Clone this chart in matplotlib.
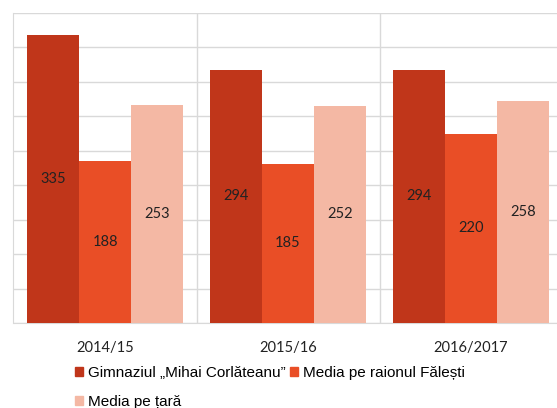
import matplotlib
matplotlib.use("Agg")
import matplotlib.pyplot as plt
from matplotlib.patches import Patch
import numpy as np

categories = ["2014/15", "2015/16", "2016/2017"]
series_names = ["Gimnaziul „Mihai Corlăteanu”", "Media pe raionul Fălești", "Media pe țară"]
gimnaziul = [335, 294, 294]
raion = [188, 185, 220]
tara = [253, 252, 258]
colors = ["#C0361A", "#E94E26", "#F4B8A4"]

fig = plt.figure(figsize=(5.57, 4.08), dpi=100)
ax = fig.add_axes([13.5 / 557, 85 / 408, 549 / 557, 310 / 408])

x = np.arange(len(categories))
w = 0.2836
for i, (vals, c) in enumerate(zip([gimnaziul, raion, tara], colors)):
    bars = ax.bar(x + (i - 1) * w, vals, width=w, color=c, zorder=3)
    for b, v in zip(bars, vals):
        ax.text(b.get_x() + b.get_width() / 2, v / 2, str(v), ha="center", va="center",
                fontsize=10.5, family="Lato", color="#222222", zorder=4)

ax.set_xlim(-0.5, 2.5)
ax.set_ylim(0, 360)
ax.set_yticks(np.arange(0, 361, 40))
ax.yaxis.grid(True, color="#D9D9D9", linewidth=1.0, zorder=0)
ax.set_yticklabels([])
ax.tick_params(axis="y", length=0)
for xv in [0.5, 1.5]:
    ax.axvline(xv, color="#D9D9D9", linewidth=1.0, zorder=1)
for s in ["top", "right"]:
    ax.spines[s].set_visible(False)
ax.spines["left"].set_color("#D9D9D9")
ax.spines["bottom"].set_color("#D9D9D9")
ax.set_xticks(x)
ax.set_xticklabels(categories, family="Lato", fontsize=10.5, color="#222222")
ax.tick_params(axis="x", length=0, pad=13)

handles = [Patch(color=c) for c in colors]
order = [0, 2, 1]
leg = fig.legend([handles[i] for i in order], [series_names[i] for i in order],
                 ncol=2, loc="upper left", bbox_to_anchor=(75 / 557, 1 - 366 / 408),
                 frameon=False, prop={"family": "Liberation Sans", "size": 11},
                 handlelength=0.55, handleheight=0.55, handletextpad=0.3,
                 columnspacing=0.25, labelspacing=0.95, borderpad=0, borderaxespad=0)

fig.savefig("out.png", dpi=100)
